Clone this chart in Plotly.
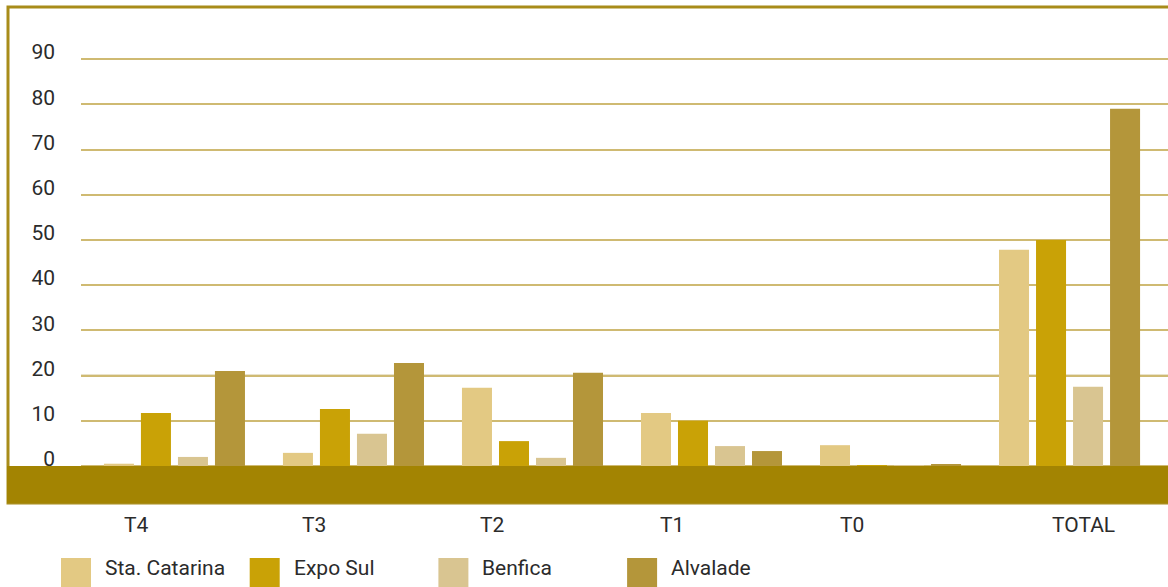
import plotly.graph_objects as go

# ---- data ----
categories = ["T4", "T3", "T2", "T1", "T0", "TOTAL"]
series_names = ["Sta. Catarina", "Expo Sul", "Benfica", "Alvalade"]
sta_catarina = [0.5, 2.9, 17.3, 11.7, 4.6, 47.8]
expo_sul = [11.7, 12.6, 5.5, 10.0, 0.2, 50.0]
benfica = [2.0, 7.1, 1.8, 4.4, 0.2, 17.5]
alvalade = [21.0, 22.8, 20.6, 3.3, 0.4, 79.0]
tick_vals = [0, 10, 20, 30, 40, 50, 60, 70, 80, 90]
tick_text = ["0", "10", "20", "30", "40", "50", "60", "70", "80", "90"]

# ---- styles ----
colors = ["#E3C983", "#C9A206", "#D9C591", "#B4963A"]
band_color = "#A38402"
frame_color = "#A88C1A"
grid_light = "#CFBA72"
grid_dark = "#AC8E2C"
text_color = "#2B2B2B"
FONT = "Liberation Sans Narrow, Arial Narrow, Roboto, sans-serif"
FS = 21

W, H = 1168, 587
ML, MR, MT, MB = 81, 0, 8, 84
plot_w = W - ML - MR
plot_h = H - MT - MB
y_min, y_max = -8.19, 101.3
x_range = [-0.522, 5.55]


def px_to_paper_x(px):
    return (px - ML) / plot_w


def px_to_paper_y(py):
    return (H - MB - py) / plot_h


all_series = [sta_catarina, expo_sul, benfica, alvalade]

fig = go.Figure()
for name, vals, col in zip(series_names, all_series, colors):
    fig.add_trace(go.Bar(x=categories, y=vals, name=name,
                         marker=dict(color=col, line=dict(width=0)),
                         showlegend=False))

shapes = []
# darker gridlines for every second tick
for v in tick_vals:
    if v > 0 and v % 20 == 0:
        shapes.append(dict(type="line", xref="paper", yref="y", x0=0, x1=1, y0=v, y1=v,
                           line=dict(color=grid_dark, width=1.5), layer="below"))
# frame
shapes.append(dict(type="rect", xref="paper", yref="paper",
                   x0=px_to_paper_x(8), x1=1.02, y0=0.0, y1=px_to_paper_y(7),
                   line=dict(color=frame_color, width=3), fillcolor="rgba(0,0,0,0)", layer="above"))
# bottom band (below zero)
zero_frac = (0 - y_min) / (y_max - y_min)
shapes.append(dict(type="rect", xref="paper", yref="paper",
                   x0=px_to_paper_x(7), x1=1.02, y0=0.0, y1=zero_frac,
                   line=dict(width=0), fillcolor=band_color, layer="above"))

annotations = []
# category labels under the band
label_shift = [-37.5, -39.5, -39.5, -39.5, -38.5, 13.5]
for cat, sh in zip(categories, label_shift):
    annotations.append(dict(x=cat, xref="x", y=px_to_paper_y(525), yref="paper",
                            text=cat, showarrow=False, xshift=sh,
                            xanchor="center", yanchor="middle",
                            font=dict(family=FONT, size=FS, color=text_color)))

# legend (custom, large square swatches)
leg_x0, leg_pitch, sw = 61, 188.7, 30
for i, (name, col) in enumerate(zip(series_names, colors)):
    sx = leg_x0 + i * leg_pitch
    shapes.append(dict(type="rect", xref="paper", yref="paper",
                       x0=px_to_paper_x(sx), x1=px_to_paper_x(sx + sw),
                       y0=px_to_paper_y(589), y1=px_to_paper_y(558),
                       line=dict(width=0), fillcolor=col, layer="above"))
    annotations.append(dict(x=px_to_paper_x(sx + 42), xref="paper",
                            y=px_to_paper_y(568), yref="paper",
                            text=name, showarrow=False, xanchor="left", yanchor="middle",
                            font=dict(family=FONT, size=FS, color=text_color)))

fig.update_layout(
    width=W, height=H,
    margin=dict(l=ML, r=MR, t=MT, b=MB, pad=0),
    paper_bgcolor="white", plot_bgcolor="rgba(0,0,0,0)",
    barmode="group", bargap=0.173, bargroupgap=0.189,
    font=dict(family=FONT, size=FS, color=text_color),
    shapes=shapes, annotations=annotations,
    showlegend=False,
    xaxis=dict(range=x_range, showticklabels=False, showgrid=False, zeroline=False,
               showline=False, ticks="", fixedrange=True),
    yaxis=dict(range=[y_min, y_max], tickvals=tick_vals, ticktext=tick_text,
               showgrid=True, gridcolor=grid_light, gridwidth=1.5, zeroline=False,
               showline=False, ticks="", ticklabelstandoff=25, ticklabelshift=-7,
               tickfont=dict(family=FONT, size=FS, color=text_color)),
)

fig.write_html("out.html",
               config={"displayModeBar": False},
               post_script="document.body.style.margin='0';document.body.style.overflow='hidden';")
